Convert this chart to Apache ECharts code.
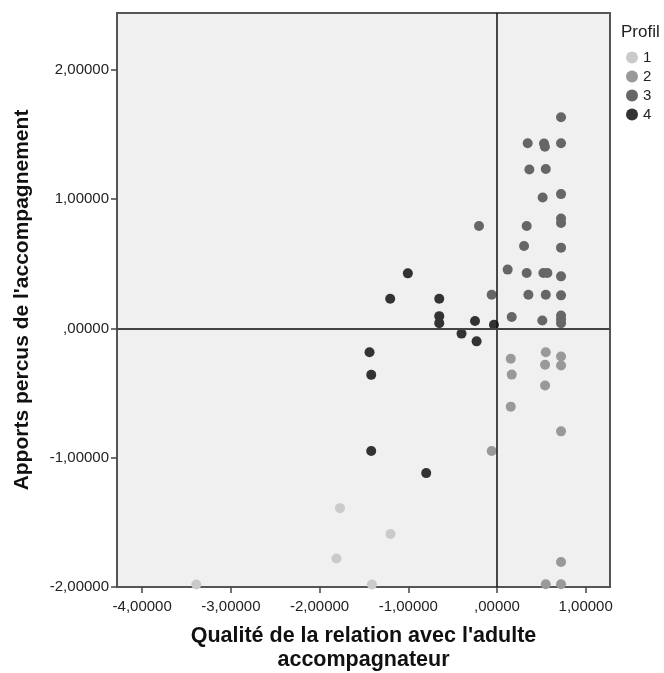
<!DOCTYPE html>
<html>
<head>
<meta charset="utf-8">
<script src="https://cdn.jsdelivr.net/npm/echarts@6/dist/echarts.min.js"></script>
<style>html,body{margin:0;padding:0;background:#fff;}#c{width:664px;height:673px;}</style>
</head>
<body>
<div id="c"></div>
<script>
const profiles = ['1', '2', '3', '4'];
const colors = ['#cacaca', '#999999', '#666666', '#333333'];

const p1X = [-3.39, -1.77, -1.20, -1.81, -1.41];
const p1Y = [-1.98, -1.39, -1.59, -1.78, -1.98];

const p2X = [0.155, 0.166, 0.155, 0.55, 0.542, 0.542, 0.722, 0.722, 0.722, -0.06, 0.722, 0.55, 0.722];
const p2Y = [-0.235, -0.357, -0.605, -0.184, -0.281, -0.442, -0.217, -0.287, -0.796, -0.948, -1.806, -1.979, -1.979];

const p3X = [0.722, 0.346, 0.53, 0.54, 0.722, 0.365, 0.55, 0.515, 0.722, -0.203, 0.335, 0.722, 0.722, 0.305, 0.722, 0.12, 0.335, 0.523, 0.568, 0.722, -0.06, 0.354, 0.55, 0.722, 0.166, 0.511, 0.722, 0.722, 0.722];
const p3Y = [1.633, 1.432, 1.43, 1.405, 1.432, 1.23, 1.233, 1.013, 1.039, 0.793, 0.793, 0.85, 0.816, 0.638, 0.625, 0.455, 0.429, 0.429, 0.429, 0.403, 0.261, 0.261, 0.261, 0.256, 0.088, 0.062, 0.10, 0.07, 0.04];

const p4X = [-1.005, -1.204, -0.651, -0.651, -0.651, -0.248, -0.034, -0.4, -0.23, -1.437, -1.418, -1.418, -0.798];
const p4Y = [0.426, 0.23, 0.23, 0.095, 0.041, 0.057, 0.029, -0.04, -0.1, -0.184, -0.359, -0.948, -1.119];

const xTicks = [-4, -3, -2, -1, 0, 1];
const yTicks = [-2, -1, 0, 1, 2];

const seriesX = [p1X, p2X, p3X, p4X];
const seriesY = [p1Y, p2Y, p3Y, p4Y];

function fmt(v) {
  if (Math.abs(v) < 1e-9) return ',00000';
  return v.toFixed(5).replace('.', ',');
}

const font = '"Liberation Sans", Arial, sans-serif';

const series = profiles.map((p, i) => ({
  name: p,
  type: 'scatter',
  symbol: 'circle',
  symbolSize: 10,
  z: 3,
  itemStyle: { color: colors[i], opacity: 1 },
  data: seriesX[i].map((x, k) => [x, seriesY[i][k]])
}));

series.push({
  name: 'ref',
  type: 'scatter',
  data: [],
  z: 2,
  markLine: {
    silent: true,
    symbol: 'none',
    label: { show: false },
    animation: false,
    data: [
      { xAxis: 0, lineStyle: { color: '#111', width: 1.5, type: 'solid' } },
      { yAxis: 0, lineStyle: { color: '#444', width: 2, type: 'solid' } }
    ]
  }
});

const chart = echarts.init(document.getElementById('c'), null, { renderer: 'canvas' });
chart.setOption({
  animation: false,
  backgroundColor: '#ffffff',
  textStyle: { fontFamily: font },
  title: {
    text: 'Profil',
    left: 621,
    top: 24,
    padding: 0,
    textStyle: { fontFamily: font, fontSize: 17, fontWeight: 'normal', color: '#222' }
  },
  legend: {
    data: profiles,
    orient: 'vertical',
    left: 626,
    top: 50,
    padding: 0,
    itemGap: 4,
    itemWidth: 12,
    itemHeight: 12,
    icon: 'circle',
    textStyle: { fontFamily: font, fontSize: 15, color: '#222' }
  },
  grid: {
    left: 117, right: 54, top: 13, bottom: 86,
    outerBoundsMode: 'none',
    containLabel: false,
    show: true,
    backgroundColor: '#f0f0f0',
    borderColor: '#555',
    borderWidth: 2
  },
  xAxis: {
    type: 'value',
    min: -4.284,
    max: 1.274,
    splitLine: { show: false },
    axisLine: { show: true, onZero: false, lineStyle: { color: '#555', width: 2 } },
    axisTick: { show: true, length: 6, customValues: xTicks, lineStyle: { color: '#444', width: 1.5 } },
    axisLabel: { customValues: xTicks, formatter: fmt, fontFamily: font, fontSize: 15, color: '#222', margin: 12 },
    name: "Qualité de la relation avec l'adulte\naccompagnateur",
    nameLocation: 'middle',
    nameGap: 37,
    nameTextStyle: { fontFamily: font, fontSize: 21.5, fontWeight: 'bold', color: '#111', lineHeight: 24 }
  },
  yAxis: {
    type: 'value',
    min: -2,
    max: 2.44,
    splitLine: { show: false },
    axisLine: { show: true, onZero: false, lineStyle: { color: '#555', width: 2 } },
    axisTick: { show: true, length: 6, customValues: yTicks, lineStyle: { color: '#444', width: 1.5 } },
    axisLabel: { customValues: yTicks, formatter: fmt, fontFamily: font, fontSize: 15, color: '#222', margin: 8 },
    name: "Apports percus de l'accompagnement",
    nameLocation: 'middle',
    nameRotate: 90,
    nameGap: 84,
    nameTextStyle: { fontFamily: font, fontSize: 21, fontWeight: 'bold', color: '#111' }
  },
  series: series
});
</script>
</body>
</html>
